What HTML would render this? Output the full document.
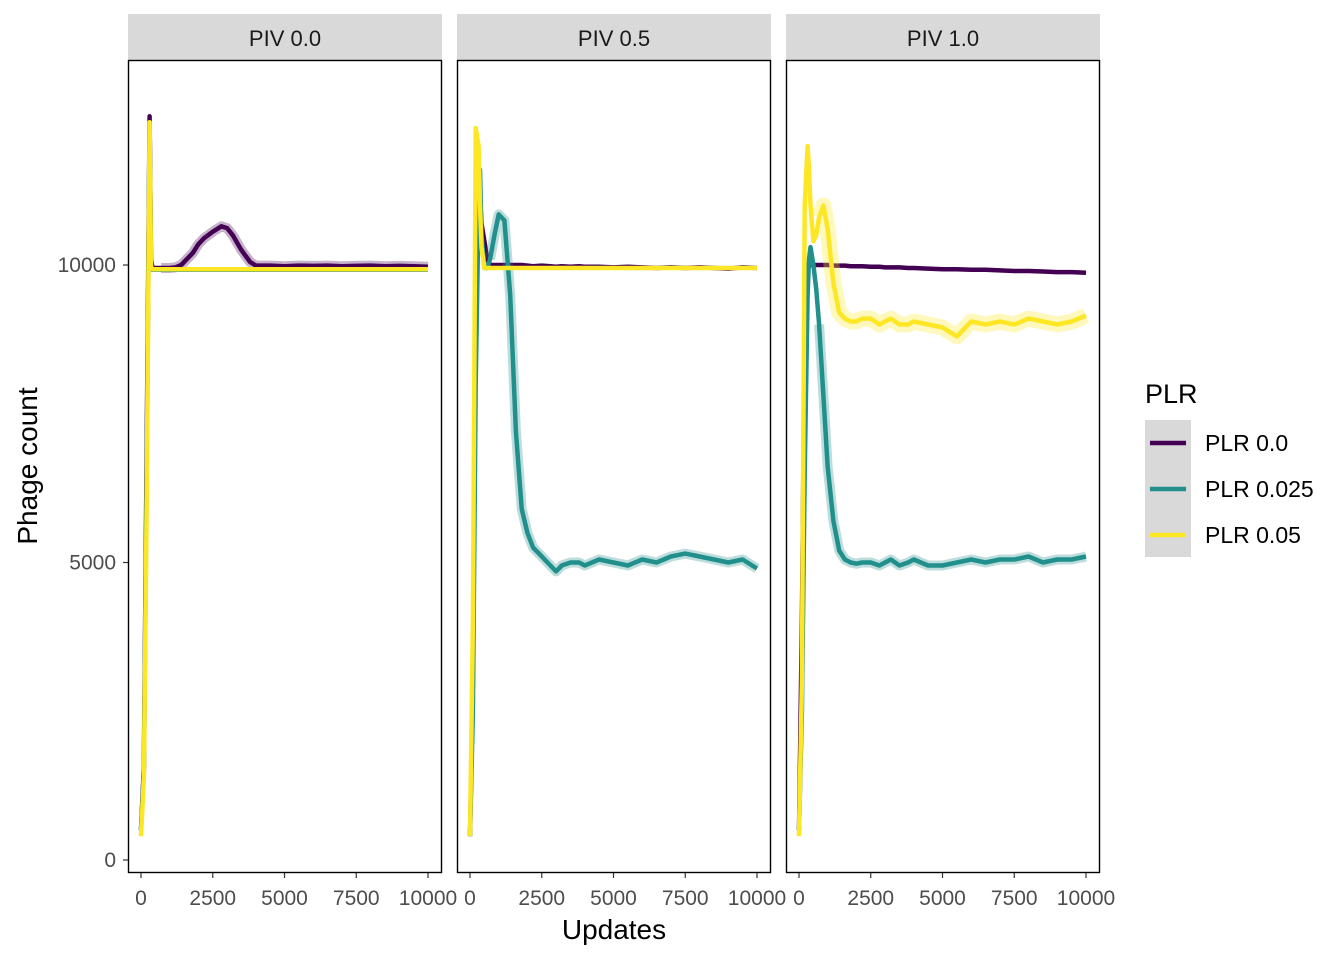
<!DOCTYPE html>
<html><head><meta charset="utf-8"><style>
body{margin:0;background:#fff;font-family:"Liberation Sans",Arial,sans-serif}
</style></head><body>
<svg id="c" width="1344" height="960" xmlns="http://www.w3.org/2000/svg"></svg>
<script>
const panels=["PIV 0.0","PIV 0.5","PIV 1.0"];
const seriesNames=["PLR 0.0","PLR 0.025","PLR 0.05"];
const colors=["#440154","#21908c","#fde725"];
const xTicks=[0,2500,5000,7500,10000];
const yTicks=[0,5000,10000];
const times=[0,100,200,300,350,400,500,600,700,850,1000,1200,1400,1600,1800,2000,2200,2500,2800,3000,3200,3500,3800,4000,4500,5000,5500,6000,6500,7000,7500,8000,8500,9000,9500,10000];
// panel PIV 0.0
const p0s0=[500,1600,7000,12500,10100,9950,9950,9950,9950,9950,9950,9960,10000,10100,10200,10350,10450,10560,10650,10620,10500,10250,10050,9990,9990,9980,9990,9985,9990,9980,9985,9990,9980,9985,9980,9970];
const p0s1=[500,1500,6500,12400,10000,9920,9920,9920,9920,9920,9920,9920,9920,9920,9920,9920,9920,9920,9920,9920,9920,9920,9920,9920,9920,9920,9920,9920,9920,9920,9920,9920,9920,9920,9920,9920];
const p0s2=[400,1400,6000,12400,9950,9930,9930,9930,9930,9930,9930,9930,9930,9930,9930,9930,9930,9930,9930,9930,9930,9930,9930,9930,9930,9930,9930,9930,9930,9930,9930,9930,9930,9930,9930,9930];
// panel PIV 0.5
const p1s0=[400,3000,9000,11000,11200,10700,10400,10100,10000,10000,10000,10000,10000,10000,10000,9990,9980,9990,9980,9970,9980,9970,9980,9970,9970,9960,9970,9960,9950,9960,9950,9960,9950,9940,9960,9950];
const p1s1=[400,2500,8000,11000,11600,10500,9950,9950,10100,10500,10850,10750,9500,7200,5900,5500,5250,5100,4950,4850,4950,5000,5000,4950,5050,5000,4950,5050,5000,5100,5150,5100,5050,5000,5050,4900];
const p1s2=[400,4000,12300,12000,11000,10300,9950,9950,9950,9950,9950,9950,9950,9950,9950,9950,9950,9950,9950,9950,9950,9950,9950,9950,9950,9950,9950,9950,9950,9950,9950,9950,9950,9950,9950,9950];
// panel PIV 1.0
const p2s0=[500,4000,9000,10000,10000,10000,10000,10000,10000,10000,10000,9990,9990,9990,9980,9980,9980,9970,9970,9960,9960,9960,9950,9950,9940,9930,9930,9920,9920,9910,9900,9900,9890,9880,9880,9870];
const p2s1=[500,2500,6500,9500,10100,10300,10000,9600,9000,7800,6600,5700,5200,5050,5000,4980,5000,5000,4950,5000,5050,4950,5000,5050,4950,4950,5000,5050,5000,5050,5050,5100,5000,5050,5050,5100];
const p2s2=[400,3000,11000,12000,11600,11000,10400,10500,10800,11000,10600,9700,9200,9100,9050,9050,9100,9100,9000,9050,9100,9000,9000,9050,9000,8950,8800,9050,9000,9050,9000,9100,9050,9000,9050,9150];
const data=[[p0s0,p0s1,p0s2],[p1s0,p1s1,p1s2],[p2s0,p2s1,p2s2]];
const noisy=[[0],[1],[1,2]];

const NS="http://www.w3.org/2000/svg";
const svg=document.getElementById("c");
function mk(t,a,p){const e=document.createElementNS(NS,t);for(const k in a)e.setAttribute(k,a[k]);(p||svg).appendChild(e);return e;}
const PX=[128,457,786],PW=314,PT=60,PB=873;
const yS=v=>860-v*(297.5/5000);
panels.forEach((name,pi)=>{
  const x0=PX[pi];
  const xS=t=>x0+13+t*0.0287;
  const g=mk("g",{});
  
  
  const strip=mk("rect",{x:x0,y:14,width:PW,height:46,fill:"#d9d9d9"},g);
  
  
  const st=mk("text",{x:x0+PW/2,y:46,"text-anchor":"middle","font-size":"22",fill:"#1a1a1a"},g);
  st.textContent=name;
  
  
  const cp=mk("clipPath",{id:"cp"+pi},g);mk("rect",{x:x0,y:PT,width:PW,height:PB-PT},cp);
  const lg=mk("g",{"clip-path":"url(#cp"+pi+")"},g);
  data[pi].forEach((vals,si)=>{
    const pts=vals.map((v,i)=>[xS(times[i]),yS(v)]);
    const d=pts.map((p,i)=>(i?"L":"M")+p[0].toFixed(1)+","+p[1].toFixed(1)).join("");
    if(noisy[pi].includes(si)){
      const dr=pts.filter((p,i)=>times[i]>=700).map((p,i)=>(i?"L":"M")+p[0].toFixed(1)+","+p[1].toFixed(1)).join("");
      const r=mk("path",{d:dr,fill:"none",stroke:colors[si],"stroke-width":si==2?16:10,"stroke-opacity":0.3,"stroke-linejoin":"round"},lg);
      
      
    }
    const p=mk("path",{d:d,fill:"none",stroke:colors[si],"stroke-width":4.5,"stroke-linejoin":"round"},lg);
    
    
  });
  const fr=mk("rect",{x:x0+0.5,y:PT+0.5,width:PW-1,height:PB-PT-1,fill:"none",stroke:"#000","stroke-width":1.4},g);
  
  
  xTicks.forEach(t=>{
    mk("line",{x1:xS(t),x2:xS(t),y1:PB,y2:PB+5,stroke:"#333","stroke-width":1.2},g);
    const tx=mk("text",{x:xS(t),y:905,"text-anchor":"middle","font-size":"21",fill:"#4d4d4d"},g);
    tx.textContent=t;
    
    
  });
});
yTicks.forEach(v=>{
  mk("line",{x1:123,x2:128,y1:yS(v),y2:yS(v),stroke:"#333","stroke-width":1.2});
  const t=mk("text",{x:116,y:yS(v)+7,"text-anchor":"end","font-size":"21",fill:"#4d4d4d"});
  t.textContent=v;
  
  
});
const xt=mk("text",{x:614,y:939,"text-anchor":"middle","font-size":"28",fill:"#000"});
xt.textContent="Updates";


const yt=mk("text",{x:37,y:466,"text-anchor":"middle","font-size":"28",fill:"#000",transform:"rotate(-90 37 466)"});
yt.textContent="Phage count";


const lt=mk("text",{x:1145,y:403,"font-size":"27",fill:"#000"});
lt.textContent="PLR";


const lb=mk("rect",{x:1145,y:420,width:46,height:137,fill:"#d9d9d9"});


seriesNames.forEach((n,i)=>{
  const y=443+i*46;
  const k=mk("line",{x1:1150,x2:1186,y1:y,y2:y,stroke:colors[i],"stroke-width":4.5});
  
  
  const t=mk("text",{x:1205,y:y+8,"font-size":"23",fill:"#000"});
  t.textContent=n;
  
  
});
</script>
</body></html>
